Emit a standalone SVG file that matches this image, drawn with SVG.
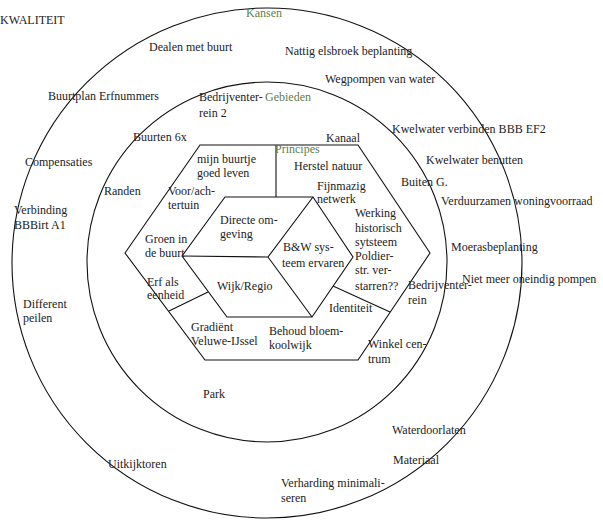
<svg xmlns="http://www.w3.org/2000/svg" width="603" height="521" viewBox="0 0 603 521">
<style>
text{font-family:"Liberation Serif","Times New Roman",serif;font-size:12px;fill:#222}
.g{fill:#5f8048}
.s{fill:none;stroke:#111;stroke-width:1.1}
</style>
<rect width="603" height="521" fill="#fff"/>
<g id="rings">
<circle id="outer" class="s" cx="267" cy="263" r="255"/>
<circle id="middle" class="s" cx="267" cy="262" r="180"/>
</g>
<g id="hexagon">
<polygon class="s" points="125,253 200,145 358,145 430,253 358,360 205,360"/>
</g>
<g id="cube">
<polygon class="s" points="182,256 225,197 313,197 353,257 312,317 227,317"/>
<polyline class="s" points="182,256 268,257 313,197"/>
<line class="s" x1="268" y1="257" x2="312" y2="317"/>
</g>
<g id="connectors">
<line class="s" x1="276" y1="145" x2="276" y2="197"/>
<line class="s" x1="169" y1="311" x2="208" y2="292"/>
<line class="s" x1="333" y1="286" x2="390" y2="312"/>
</g>
<g id="labels-kansen">
<text x="0" y="24">KWALITEIT</text>
<text class="g" x="246" y="17">Kansen</text>
<text x="149" y="51">Dealen met buurt</text>
<text x="285" y="55">Nattig elsbroek beplanting</text>
<text x="325" y="83">Wegpompen van water</text>
<text x="48" y="100">Buurtplan Erfnummers</text>
<text x="392" y="133">Kwelwater verbinden BBB EF2</text>
<text x="426" y="164">Kwelwater benutten</text>
<text x="25" y="166">Compensaties</text>
<text x="441" y="205">Verduurzamen woningvoorraad</text>
<text x="14" y="214">Verbinding</text>
<text x="14" y="229">BBBirt A1</text>
<text x="451" y="251">Moerasbeplanting</text>
<text x="462" y="283">Niet meer oneindig pompen</text>
<text x="23" y="308">Different</text>
<text x="23" y="322">peilen</text>
<text x="392" y="434">Waterdoorlaten</text>
<text x="393" y="464">Materiaal</text>
<text x="108" y="468">Uitkijktoren</text>
<text x="281" y="487">Verharding minimali-</text>
<text x="281" y="502">seren</text>
</g>
<g id="labels-gebieden">
<text class="g" x="265" y="101">Gebieden</text>
<text x="199" y="101">Bedrijventer-</text>
<text x="199" y="117">rein 2</text>
<text x="133" y="141">Buurten 6x</text>
<text x="326" y="142">Kanaal</text>
<text x="401" y="186">Buiten G.</text>
<text x="104" y="195">Randen</text>
<text x="408" y="289">Bedrijventer-</text>
<text x="408" y="304">rein</text>
<text x="368" y="348">Winkel cen-</text>
<text x="368" y="363">trum</text>
<text x="203" y="398">Park</text>
</g>
<g id="labels-principes">
<text class="g" x="275" y="153">Principes</text>
<text x="197" y="163">mijn buurtje</text>
<text x="197" y="177">goed leven</text>
<text x="294" y="170">Herstel natuur</text>
<text x="317" y="190">Fijnmazig</text>
<text x="317" y="203">netwerk</text>
<text x="168" y="195">Voor/ach-</text>
<text x="168" y="209">tertuin</text>
<text x="355" y="217">Werking</text>
<text x="355" y="232">historisch</text>
<text x="355" y="246">sytsteem</text>
<text x="355" y="260">Poldier-</text>
<text x="355" y="274">str. ver-</text>
<text x="355" y="290">starren??</text>
<text x="145" y="243">Groen in</text>
<text x="145" y="257">de buurt</text>
<text x="147" y="286">Erf als</text>
<text x="147" y="299">eenheid</text>
<text x="329" y="312">Identiteit</text>
<text x="191" y="331">Gradiënt</text>
<text x="191" y="345">Veluwe-IJssel</text>
<text x="269" y="335">Behoud bloem-</text>
<text x="269" y="349">koolwijk</text>
</g>
<g id="labels-cube">
<text x="220" y="224">Directe om-</text>
<text x="220" y="238">geving</text>
<text x="283" y="251">B&amp;W sys-</text>
<text x="282" y="267">teem ervaren</text>
<text x="217" y="290">Wijk/Regio</text>
</g>
</svg>
